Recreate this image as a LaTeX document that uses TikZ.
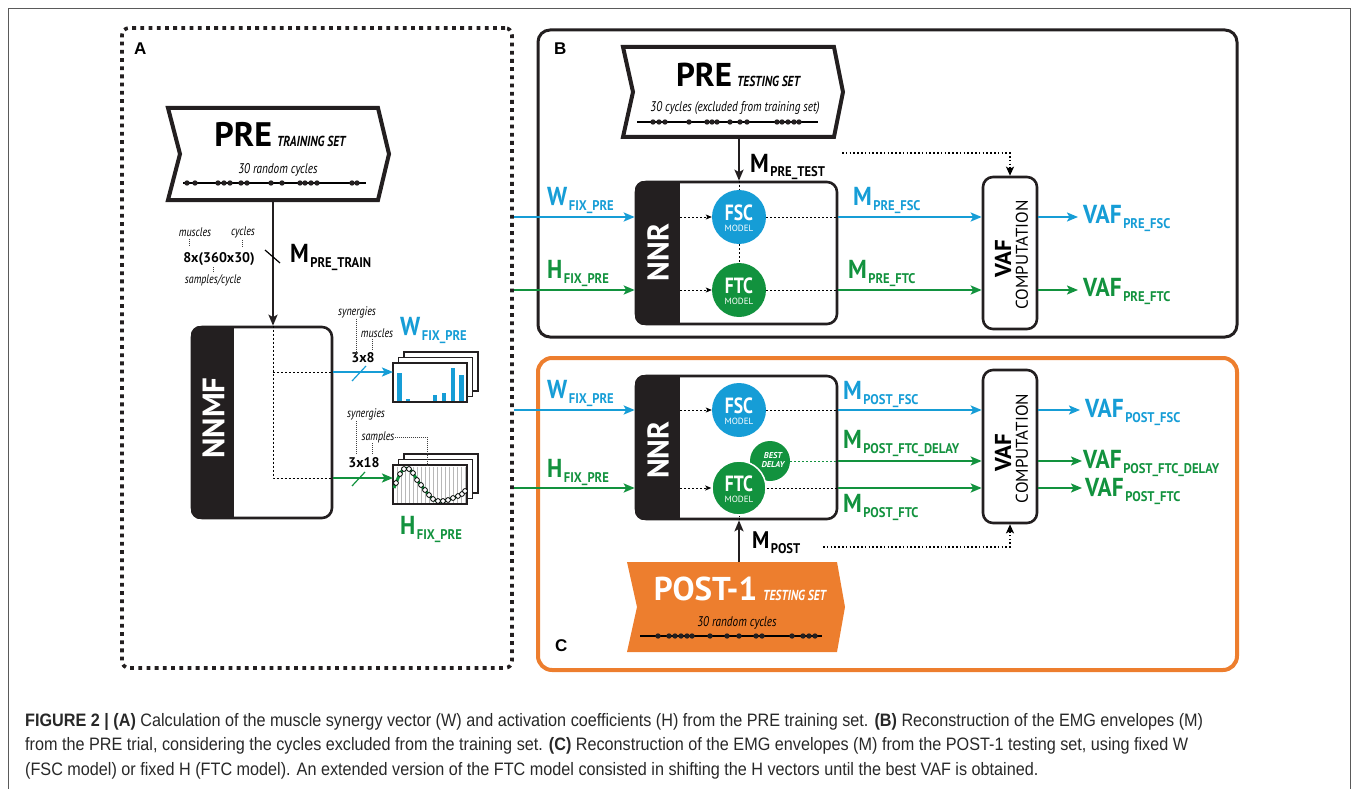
\documentclass[tikz,border=0pt]{standalone}
\usepackage{fontspec}
\setmainfont{PT Sans}
\newfontfamily\narrowfont[FakeStretch=0.8]{PT Sans}
\newfontfamily\lblfont[FakeStretch=0.9]{PT Sans}
\newfontfamily\capfont[FakeStretch=0.9]{Liberation Sans}
\newfontfamily\panelfont{Liberation Sans}
\usetikzlibrary{arrows.meta,calc}

\definecolor{wblue}{RGB}{22,157,214}
\definecolor{hgreen}{RGB}{18,146,62}
\definecolor{postorange}{RGB}{237,126,46}
\definecolor{inkblack}{RGB}{35,31,32}
\definecolor{framegray}{RGB}{90,90,90}
\definecolor{captext}{RGB}{40,40,40}

% signal label: big letter(s) with a lowered subscript
\newcommand{\siglab}[3][26]{{\lblfont\bfseries\fontsize{#1}{#1}\selectfont #2}\hspace{1.5pt}\raisebox{-5pt}{\lblfont\bfseries\fontsize{14}{14}\selectfont #3}}

\tikzset{
  flowarrow/.style={line width=2.4pt, -{Stealth[length=11pt,width=9pt,inset=2.5pt]}},
  dotline/.style={line width=1pt, dash pattern=on 2pt off 2pt},
  dotarrow/.style={dotline, -{Stealth[length=6pt,width=5pt,inset=1.5pt]}},
  tapline/.style={line width=1.6pt, dash pattern=on 1.6pt off 2.2pt, -{Stealth[length=9pt,width=8pt,inset=2pt]}},
  leader/.style={line width=0.7pt, dash pattern=on 1pt off 1pt, black!75},
  sigtext/.style={inner sep=0pt, anchor=base west},
  snug/.style={inner sep=0pt},
  bannerline/.style={draw=inkblack, line width=4pt, line join=miter, fill=white},
  procbox/.style={draw=inkblack, line width=2.6pt, rounded corners=10pt, fill=white, inner sep=0pt},
  modelcirc/.style={circle, inner sep=0pt, minimum size=54pt},
  modeltitle/.style={inner sep=0pt, text=white, font=\narrowfont\bfseries\fontsize{22}{22}\selectfont},
  modelsub/.style={inner sep=0pt, text=white, font=\fontsize{9}{9}\selectfont},
  striptext/.style={rotate=90, inner sep=0pt, text=white, font=\bfseries\fontsize{31}{31}\selectfont},
  dimtext/.style={inner sep=0pt, anchor=base, font=\bfseries\fontsize{14}{14}\selectfont},
  notetext/.style={inner sep=0pt, font=\narrowfont\itshape\fontsize{12.5}{12.5}\selectfont},
  plotsheet/.style={draw=inkblack, line width=1.3pt, fill=white},
  cycledot/.style={fill=inkblack},
  panelletter/.style={inner sep=0pt, anchor=base west, font=\panelfont\bfseries\fontsize{17}{17}\selectfont},
  capline/.style={inner sep=0pt, anchor=base west, text=captext, font=\capfont\fontsize{18}{18}\selectfont},
}

\begin{document}
\begin{tikzpicture}[x=1pt,y=-1pt]
\useasboundingbox (0,0) rectangle (1358,789);
% thin outer frame, open at the bottom edge of the page
\draw[framegray, line width=1pt] (8,795) -- (8,9) -- (1350,9) -- (1350,795);

% ---------------- Panel A: synergy extraction ----------------
\node[draw=inkblack, line width=3.6pt, dash pattern=on 3.8pt off 4.4pt, rounded corners=7pt,
      minimum width=390pt, minimum height=640pt, inner sep=0pt] (panelA) at (317,348) {};
\node[panelletter] (letterA) at (134,55) {A};

\node[minimum width=210pt, minimum height=92pt, inner sep=0pt, outer sep=0pt] (trainset) at (273,154) {};
\draw[bannerline] (trainset.north west) -- (trainset.north east) -- ($(trainset.east)+(11,0)$)
  -- (trainset.south east) -- (trainset.south west) -- ($(trainset.west)+(12,0)$) -- cycle;
\node[snug, anchor=base] (trainTitle) at (280,147) {{\bfseries\fontsize{34}{34}\selectfont PRE}\hspace{5pt}{\narrowfont\bfseries\itshape\fontsize{14.5}{14.5}\selectfont TRAINING SET}};
\node[snug, anchor=base] (trainNote) at (278,174) {\narrowfont\itshape\fontsize{14}{14}\selectfont 30 random cycles};
\draw[line width=1.2pt] (183,183) -- (366,183);
\foreach \x in {187,195,218,224,230,241,247,271,282,300,305,311,317,352,357}
  \fill[cycledot] (\x,183) circle (2.7pt);

\node[procbox, minimum width=140pt, minimum height=191pt] (nnmf) at (262,422.5) {};
\begin{scope}
  \clip[rounded corners=10pt] (nnmf.south west) rectangle (nnmf.north east);
  \fill[inkblack] (nnmf.south west) rectangle ($(nnmf.north west)+(43,0)$);
\end{scope}
\node[striptext] (nnmfText) at (213.5,418) {NNMF};

\coordinate (nnmfIn) at (trainset.south |- nnmf.north);
\draw[flowarrow, inkblack] (trainset.south) -- (nnmfIn);
\draw[line width=1.2pt] (265,250) -- (280,263);
\node[sigtext] (mPreTrain) at (290,262) {\siglab{M}{PRE\_TRAIN}};
\node[dimtext] (dimM) at (219,262) {8x(360x30)};
\node[notetext] (noteMus) at (195,232) {muscles};
\node[notetext] (noteCyc) at (243,232) {cycles};
\node[notetext] (noteSpc) at (213,280) {samples/cycle};
\draw[leader] ($(noteMus.south)+(-6,2)$) -- ($(noteMus.south)+(-6,9)$);
\draw[leader] ($(noteCyc.south)+(-1,2)$) -- ($(noteCyc.south)+(-1,9)$);
\draw[leader] ($(noteSpc.north)+(0,-2)$) -- ($(noteSpc.north)+(0,-8)$);

\coordinate (wRow) at (0,372);
\coordinate (hRow) at (0,478);
\draw[dotline] (nnmfIn) -- (nnmfIn |- hRow) -- (nnmf.east |- hRow);
\draw[dotline] (nnmfIn |- wRow) -- (nnmf.east |- wRow);

% W matrices
\draw[plotsheet] (404,352) rectangle (478,391);
\draw[plotsheet] (398.5,357.5) rectangle (472.5,396.5);
\node[plotsheet, minimum width=74pt, minimum height=39pt, inner sep=0pt, outer sep=0pt] (wplot) at (430,382.5) {};
\foreach \cx/\top in {399.5/373, 408/399, 435/395, 444/393, 453/368, 461.5/375}
  \fill[wblue] (\cx-2.3,\top) rectangle (\cx+2.3,401);
\draw[flowarrow, wblue] (nnmf.east |- wRow) -- (wplot.west |- wRow);
\draw[wblue, line width=1.2pt] (352,381) -- (366,366);
\node[dimtext] (dimW) at (363,362) {3x8};
\node[notetext] (noteSynW) at (357,312) {synergies};
\node[notetext] (noteMusW) at (377,333) {muscles};
\draw[leader] ($(noteSynW.south)+(-1,1)$) -- ($(noteSynW.south)+(-1,36)$);
\draw[leader] ($(noteMusW.south)+(-5,1)$) -- ($(noteMusW.south)+(-5,12)$);
\node[sigtext, text=wblue] (wFixA) at (400,335) {\siglab{W}{FIX\_PRE}};

% H matrices
\draw[plotsheet] (404,454) rectangle (478,493);
\draw[plotsheet] (398.5,459.5) rectangle (472.5,498.5);
\node[plotsheet, minimum width=74pt, minimum height=39pt, inner sep=0pt, outer sep=0pt] (hplot) at (430,484.5) {};
\foreach \gx in {397,401,...,465}
  \draw[black!28, line width=0.6pt] (\gx,466.5) -- (\gx,503);
\draw[hgreen, line width=3pt] plot[smooth, tension=0.6] coordinates {(394,488) (396,483) (400,474) (404,469) (409,469) (413,473) (417,480) (421,485) (425,490) (429,495) (433,499) (438,501) (443,501) (448,500) (453,498) (458,496) (465,491)};
\foreach \px/\py in {396/483, 400/474, 404/469, 409/469, 413/473, 417/480, 421/485, 425/490, 429/495, 433/499, 438/501, 443/501, 448/500, 453/498, 458/496, 462/494, 465/491}
  \draw[fill=white, line width=0.8pt] (\px,\py) circle (2.4pt);
\draw[flowarrow, hgreen] (nnmf.east |- hRow) -- (hplot.west |- hRow);
\draw[hgreen, line width=1.2pt] (352,486) -- (365,472);
\node[dimtext] (dimH) at (364,467) {3x18};
\node[notetext] (noteSynH) at (366,414) {synergies};
\node[notetext] (noteSmpH) at (378,437) {samples};
\draw[leader] (356,421) -- (356,454);
\draw[leader] (372,443) -- (372,454);
\draw[leader] (noteSmpH.east) -| ([xshift=-3pt]hplot.north);
\node[sigtext, text=hgreen] (hFixA) at (400,534) {\siglab{H}{FIX\_PRE}};

% ---------------- Panel B: PRE reconstruction ----------------
\node[draw=inkblack, line width=3pt, rounded corners=12pt, minimum width=699pt, minimum height=307pt, inner sep=0pt] (panelB) at (887.5,183.5) {};
\node[panelletter] (letterB) at (554,55) {B};

\node[minimum width=211pt, minimum height=90pt, inner sep=0pt, outer sep=0pt] (testset) at (728.5,92) {};
\draw[bannerline] (testset.north west) -- (testset.north east) -- ($(testset.east)+(9,0)$)
  -- (testset.south east) -- (testset.south west) -- ($(testset.west)+(10,0)$) -- cycle;
\node[snug, anchor=base] (testTitle) at (738,87) {{\bfseries\fontsize{33}{33}\selectfont PRE}\hspace{5pt}{\narrowfont\bfseries\itshape\fontsize{14.5}{14.5}\selectfont TESTING SET}};
\node[snug, anchor=base] (testNote) at (735,112) {\narrowfont\itshape\fontsize{14}{14}\selectfont 30 cycles (excluded from training set)};
\draw[line width=1.2pt] (637,122) -- (818,122);
\foreach \x in {653,659,665,689,707,712,717,730,740,747,777,782,788,794,799}
  \fill[cycledot] (\x,122) circle (2.7pt);

\node[procbox, minimum width=201pt, minimum height=142pt] (nnrB) at (736.5,253) {};
\begin{scope}
  \clip[rounded corners=10pt] (nnrB.south west) rectangle (nnrB.north east);
  \fill[inkblack] (nnrB.south west) rectangle ($(nnrB.north west)+(45,0)$);
\end{scope}
\node[striptext, font=\bfseries\fontsize{30}{30}\selectfont] (nnrBtext) at (658,252.5) {NNR};
\coordinate (stripBedge) at (680,0);

\node[modelcirc, fill=wblue] (fscB) at (739,217) {};
\node[modeltitle] (fscBtitle) at ($(fscB)+(0,-4)$) {FSC};
\node[modelsub] (fscBsub) at ($(fscB)+(0,11)$) {MODEL};
\node[modelcirc, fill=hgreen] (ftcB) at (739,290) {};
\node[modeltitle] (ftcBtitle) at ($(ftcB)+(0,-4)$) {FTC};
\node[modelsub] (ftcBsub) at ($(ftcB)+(0,11)$) {MODEL};

\node[procbox, minimum width=54pt, minimum height=152pt] (vafB) at (1010,253) {};
\node[rotate=90, snug, font=\bfseries\fontsize{23}{23}\selectfont] (vafBtitle) at (1003,259) {VAF};
\node[rotate=90, snug, font=\fontsize{17}{17}\selectfont] (vafBsub) at (1022,255) {COMPUTATION};

\draw[flowarrow, inkblack] (fscB |- testset.south) -- (fscB |- nnrB.north);
\draw[dotline] (fscB |- nnrB.north) -- (fscB.north);
\draw[dotline] (fscB.south) -- (ftcB.north);
\node[sigtext] (mPreTest) at (750,172) {\siglab{M}{PRE\_TEST}};
\coordinate (preTestTap) at (842,153);
\draw[tapline] (preTestTap) -| (vafB.north);

\draw[flowarrow, wblue] (panelA.east |- fscB) -- (nnrB.west |- fscB);
\draw[dotarrow] (stripBedge |- fscB) -- (fscB.west);
\draw[dotline] (fscB.east) -- (nnrB.east |- fscB);
\draw[flowarrow, wblue] (nnrB.east |- fscB) -- (vafB.west |- fscB);
\draw[flowarrow, hgreen] (panelA.east |- ftcB) -- (nnrB.west |- ftcB);
\draw[dotarrow] (stripBedge |- ftcB) -- (ftcB.west);
\draw[dotline] (ftcB.east) -- (nnrB.east |- ftcB);
\draw[flowarrow, hgreen] (nnrB.east |- ftcB) -- (vafB.west |- ftcB);

\node[sigtext, text=wblue] (wFixB) at (547,205) {\siglab{W}{FIX\_PRE}};
\node[sigtext, text=hgreen] (hFixB) at (547,278) {\siglab{H}{FIX\_PRE}};
\node[sigtext, text=wblue] (mPreFsc) at (853,205) {\siglab{M}{PRE\_FSC}};
\node[sigtext, text=hgreen] (mPreFtc) at (848,278) {\siglab{M}{PRE\_FTC}};

\node[sigtext, text=wblue] (vafPreFsc) at (1083,223) {\siglab{VAF}{PRE\_FSC}};
\node[sigtext, text=hgreen] (vafPreFtc) at (1083,296) {\siglab{VAF}{PRE\_FTC}};
\draw[flowarrow, wblue, shorten >=5pt] (vafB.east |- fscB) -- (vafPreFsc.west |- fscB);
\draw[flowarrow, hgreen, shorten >=5pt] (vafB.east |- ftcB) -- (vafPreFtc.west |- ftcB);

% ---------------- Panel C: POST-1 reconstruction ----------------
\node[draw=postorange, line width=4pt, rounded corners=14pt, minimum width=699pt, minimum height=312pt, inner sep=0pt] (panelC) at (887.5,514) {};
\node[panelletter] (letterC) at (555,651) {C};

\node[minimum width=210pt, minimum height=90pt, inner sep=0pt, outer sep=0pt] (postset) at (732,607) {};
\fill[postorange] (postset.north west) -- (postset.north east) -- ($(postset.east)+(8,0)$)
  -- (postset.south east) -- (postset.south west) -- ($(postset.west)+(10,0)$) -- cycle;
\node[snug, anchor=base, text=white] (postTitle) at (740,600) {{\bfseries\fontsize{33}{33}\selectfont POST-1}\hspace{6pt}{\narrowfont\bfseries\itshape\fontsize{14.5}{14.5}\selectfont TESTING SET}};
\node[snug, anchor=base] (postNote) at (737,626) {\narrowfont\itshape\fontsize{14}{14}\selectfont 30 random cycles};
\draw[line width=1.2pt] (640,636) -- (822,636);
\foreach \x in {658,669,675,681,687,692,710,727,739,756,762,792,803,809,815}
  \fill[cycledot] (\x,636) circle (2.7pt);

\node[procbox, minimum width=201pt, minimum height=143pt] (nnrC) at (736.5,447.5) {};
\begin{scope}
  \clip[rounded corners=10pt] (nnrC.south west) rectangle (nnrC.north east);
  \fill[inkblack] (nnrC.south west) rectangle ($(nnrC.north west)+(45,0)$);
\end{scope}
\node[striptext, font=\bfseries\fontsize{30}{30}\selectfont] (nnrCtext) at (658,450) {NNR};
\coordinate (stripCedge) at (680,0);

\node[modelcirc, fill=wblue] (fscC) at (739,410) {};
\node[modeltitle] (fscCtitle) at ($(fscC)+(0,-4)$) {FSC};
\node[modelsub] (fscCsub) at ($(fscC)+(0,11)$) {MODEL};
\node[circle, inner sep=0pt, minimum size=40pt, fill=hgreen] (delayC) at (770,461) {};
\node[snug, align=center, text=white, font=\bfseries\itshape\fontsize{8.5}{9}\selectfont] (delayCtext) at (773,460) {BEST\\DELAY};
\node[modelcirc, fill=hgreen, draw=white, line width=1.5pt] (ftcC) at (739,488) {};
\node[modeltitle] (ftcCtitle) at ($(ftcC)+(0,-4)$) {FTC};
\node[modelsub] (ftcCsub) at ($(ftcC)+(0,11)$) {MODEL};

\node[procbox, minimum width=54pt, minimum height=153pt] (vafC) at (1010,446.5) {};
\node[rotate=90, snug, font=\bfseries\fontsize{23}{23}\selectfont] (vafCtitle) at (1003,452.5) {VAF};
\node[rotate=90, snug, font=\fontsize{17}{17}\selectfont] (vafCsub) at (1022,448.5) {COMPUTATION};

\draw[flowarrow, inkblack] (ftcC |- postset.north) -- (ftcC |- nnrC.south);
\draw[dotline] (ftcC |- nnrC.south) -- (ftcC.south);
\node[sigtext] (mPost) at (752,548) {\siglab[24]{M}{POST}};
\coordinate (postTap) at (823,547);
\draw[tapline] (postTap) -| (vafC.south);

\draw[flowarrow, wblue] (panelA.east |- fscC) -- (nnrC.west |- fscC);
\draw[dotarrow] (stripCedge |- fscC) -- (fscC.west);
\draw[dotline] (fscC.east) -- (nnrC.east |- fscC);
\draw[flowarrow, wblue] (nnrC.east |- fscC) -- (vafC.west |- fscC);
\draw[flowarrow, hgreen] (panelA.east |- ftcC) -- (nnrC.west |- ftcC);
\draw[dotarrow] (stripCedge |- ftcC) -- (ftcC.west);
\draw[dotline] (ftcC.east) -- (nnrC.east |- ftcC);
\draw[flowarrow, hgreen] (nnrC.east |- ftcC) -- (vafC.west |- ftcC);
\draw[dotline, hgreen] (delayC.east) -- (nnrC.east |- delayC);
\draw[flowarrow, hgreen] (nnrC.east |- delayC) -- (vafC.west |- delayC);

\node[sigtext, text=wblue] (wFixC) at (547,398) {\siglab{W}{FIX\_PRE}};
\node[sigtext, text=hgreen] (hFixC) at (547,477) {\siglab{H}{FIX\_PRE}};
\node[sigtext, text=wblue] (mPostFsc) at (843,399) {\siglab{M}{POST\_FSC}};
\node[sigtext, text=hgreen] (mPostDelay) at (843,448) {\siglab{M}{POST\_FTC\_DELAY}};
\node[sigtext, text=hgreen] (mPostFtc) at (843,512) {\siglab{M}{POST\_FTC}};

\node[sigtext, text=wblue] (vafPostFsc) at (1085,417) {\siglab{VAF}{POST\_FSC}};
\node[sigtext, text=hgreen] (vafPostDelay) at (1083,468) {\siglab{VAF}{POST\_FTC\_DELAY}};
\node[sigtext, text=hgreen] (vafPostFtc) at (1085,496) {\siglab{VAF}{POST\_FTC}};
\draw[flowarrow, wblue, shorten >=5pt] (vafC.east |- fscC) -- (vafPostFsc.west |- fscC);
\draw[flowarrow, hgreen, shorten >=1pt] (vafC.east |- delayC) -- (vafPostDelay.west |- delayC);
\draw[flowarrow, hgreen, shorten >=3pt] (vafC.east |- ftcC) -- (vafPostFtc.west |- ftcC);

% ---------------- Caption ----------------
\node[capline] (cap1) at (25,726) {\textbf{FIGURE 2 | (A)} Calculation of the muscle synergy vector (W) and activation coefficients (H) from the PRE training set. \textbf{(B)} Reconstruction of the EMG envelopes (M)};
\node[capline] (cap2) at (25,750.5) {from the PRE trial, considering the cycles excluded from the training set. \textbf{(C)} Reconstruction of the EMG envelopes (M) from the POST-1 testing set, using fixed W};
\node[capline] (cap3) at (25,775) {(FSC model) or fixed H (FTC model). An extended version of the FTC model consisted in shifting the H vectors until the best VAF is obtained.};
\end{tikzpicture}
\end{document}
